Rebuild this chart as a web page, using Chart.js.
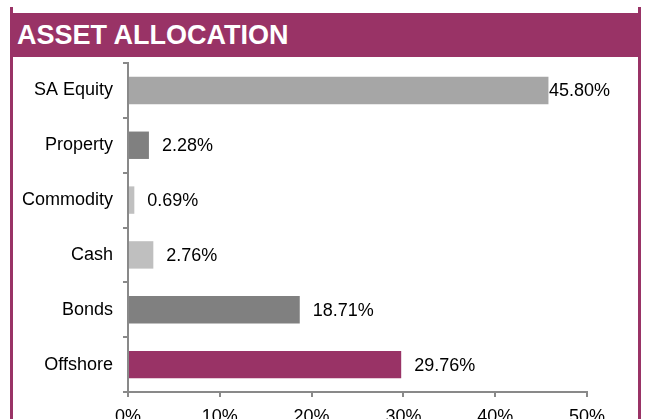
<!DOCTYPE html>
<html>
<head>
  <title>Asset Allocation</title>
  <script src="https://cdn.jsdelivr.net/npm/chart.js"></script>
  <style>
    body { margin: 0; background: #fff; font-family: "Liberation Sans", Arial, sans-serif; overflow: hidden; }
    #wrap { position: relative; width: 646px; height: 419px; }
    canvas { position: absolute; left: 0; top: 0; }
    .border { position: absolute; top: 7px; bottom: 0; width: 3px; background: #993366; }
    #header {
      position: absolute; left: 10px; top: 13px; width: 631px; height: 44px;
      background: #993366; color: #fff; font-weight: bold; font-size: 27px;
      line-height: 44px; padding-left: 7px; box-sizing: border-box;
    }
  </style>
</head>
<body>
  <div id="wrap">
    <canvas id="allocChart" width="646" height="419"></canvas>
    <div class="border" style="left:10px"></div>
    <div class="border" style="left:638px"></div>
    <div id="header">ASSET ALLOCATION</div>
  </div>

  <script>
    const categories = ["SA Equity", "Property", "Commodity", "Cash", "Bonds", "Offshore"];
    const allocation = [45.80, 2.28, 0.69, 2.76, 18.71, 29.76];
    const barColors = ["#a6a6a6", "#808080", "#c0c0c0", "#bfbfbf", "#808080", "#993366"];

    const labelFont = "'Liberation Sans', Arial, sans-serif";

    // value text after each bar, pulled back in when it would run past the frame
    const valueLabels = {
      id: "valueLabels",
      afterDatasetsDraw(chart) {
        const ctx = chart.ctx;
        const meta = chart.getDatasetMeta(0);
        ctx.save();
        ctx.font = "18px " + labelFont;
        ctx.fillStyle = "#000";
        ctx.textBaseline = "middle";
        meta.data.forEach((bar, i) => {
          const txt = allocation[i].toFixed(2) + "%";
          const w = ctx.measureText(txt).width;
          let x = bar.x + 13;
          if (x + w > 610) x = 610 - w;
          ctx.fillText(txt, x, bar.y + 1);
        });
        ctx.restore();
      }
    };

    new Chart(document.getElementById("allocChart"), {
      type: "bar",
      data: {
        labels: categories,
        datasets: [{
          data: allocation,
          backgroundColor: barColors,
          barPercentage: 0.5,
          categoryPercentage: 1
        }]
      },
      options: {
        indexAxis: "y",
        responsive: false,
        animation: false,
        layout: { padding: { top: 63, right: 59, left: 0, bottom: 0 } },
        plugins: { legend: { display: false }, tooltip: { enabled: false } },
        scales: {
          x: {
            min: 0, max: 50,
            ticks: {
              stepSize: 10,
              callback: v => v + "%",
              color: "#000",
              font: { size: 18, family: labelFont },
              padding: 9,
              maxRotation: 0
            },
            grid: { drawOnChartArea: false, drawTicks: true, tickLength: 5, color: "#898989", lineWidth: 2 },
            border: { display: true, color: "#898989", width: 2 },
            afterFit: s => { s.height = 27; }
          },
          y: {
            ticks: {
              color: "#000",
              font: { size: 18, family: labelFont },
              padding: 10
            },
            grid: { drawOnChartArea: false, drawTicks: true, tickLength: 5, color: "#898989", lineWidth: 2, offset: true },
            border: { display: true, color: "#898989", width: 2 },
            afterFit: s => { s.width = 128; }
          }
        }
      },
      plugins: [valueLabels]
    });
  </script>
</body>
</html>
